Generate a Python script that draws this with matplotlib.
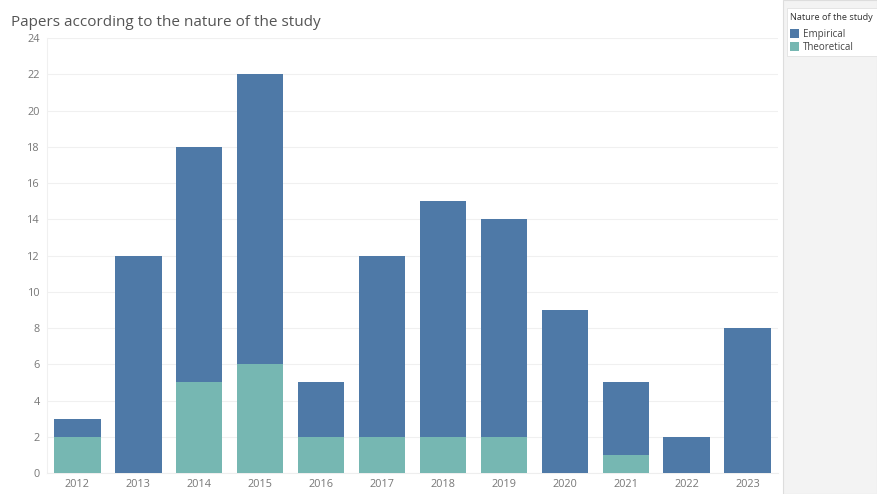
import numpy as np
import matplotlib.pyplot as plt
from matplotlib.patches import Rectangle

years = ['2012', '2013', '2014', '2015', '2016', '2017', '2018', '2019', '2020', '2021', '2022', '2023']
theoretical = [2, 0, 5, 6, 2, 2, 2, 2, 0, 1, 0, 0]
empirical = [1, 12, 13, 16, 3, 10, 13, 12, 9, 4, 2, 8]

C_EMP = '#4e79a7'
C_THEO = '#76b7b2'
TXT = '#777777'

plt.rcParams['font.family'] = ['Open Sans', 'DejaVu Sans']

fig = plt.figure(figsize=(8.77, 4.94), dpi=100)
fig.patch.set_facecolor('white')

# grey legend panel on the right
fig.patches.append(Rectangle((783 / 877, 0), 94 / 877, 1, transform=fig.transFigure,
                             facecolor='#f3f3f3', edgecolor='#dddddd', lw=0.8, zorder=0))
fig.patches.append(Rectangle((787 / 877, 1 - 56 / 494), 90 / 877, 48 / 494, transform=fig.transFigure,
                             facecolor='white', edgecolor='#e2e2e2', lw=0.6, zorder=1))

ax = fig.add_axes([47 / 877, 21 / 494, 731 / 877, 435 / 494])
x = np.arange(len(years))
ax.bar(x, theoretical, width=0.76, color=C_THEO, zorder=3)
ax.bar(x, empirical, width=0.76, bottom=theoretical, color=C_EMP, zorder=3)

ax.set_xlim(-0.5, len(years) - 0.5)
ax.set_ylim(0, 24)
ax.set_yticks(range(0, 25, 2))
ax.set_xticks(x)
ax.set_xticklabels(years)
ax.tick_params(axis='both', length=0, labelsize=7.8, colors=TXT)
ax.tick_params(axis='y', pad=5)
ax.tick_params(axis='x', pad=4)
ax.grid(axis='y', color='#f0f0f0', lw=0.8, zorder=0)
for s in ['top', 'right']:
    ax.spines[s].set_visible(False)
ax.spines['left'].set_color('#f0f0f0')
ax.spines['bottom'].set_color('#eeeeee')

fig.text(11 / 877, 1 - 22 / 494, 'Papers according to the nature of the study',
         fontsize=11, color='#555555', va='center', ha='left')

# legend contents
fig.text(790 / 877, 1 - 17 / 494, 'Nature of the study', fontsize=6.6, color='#333333', va='center')
for i, (lab, c) in enumerate([('Empirical', C_EMP), ('Theoretical', C_THEO)]):
    yy = 1 - (34 + i * 13) / 494
    fig.patches.append(Rectangle((790 / 877, yy - 4.5 / 494), 9 / 877, 9 / 494, transform=fig.transFigure,
                                 facecolor=c, edgecolor='none', zorder=2))
    fig.text(803 / 877, yy, lab, fontsize=7, color='#444444', va='center')

fig.savefig('out.png', dpi=100)
